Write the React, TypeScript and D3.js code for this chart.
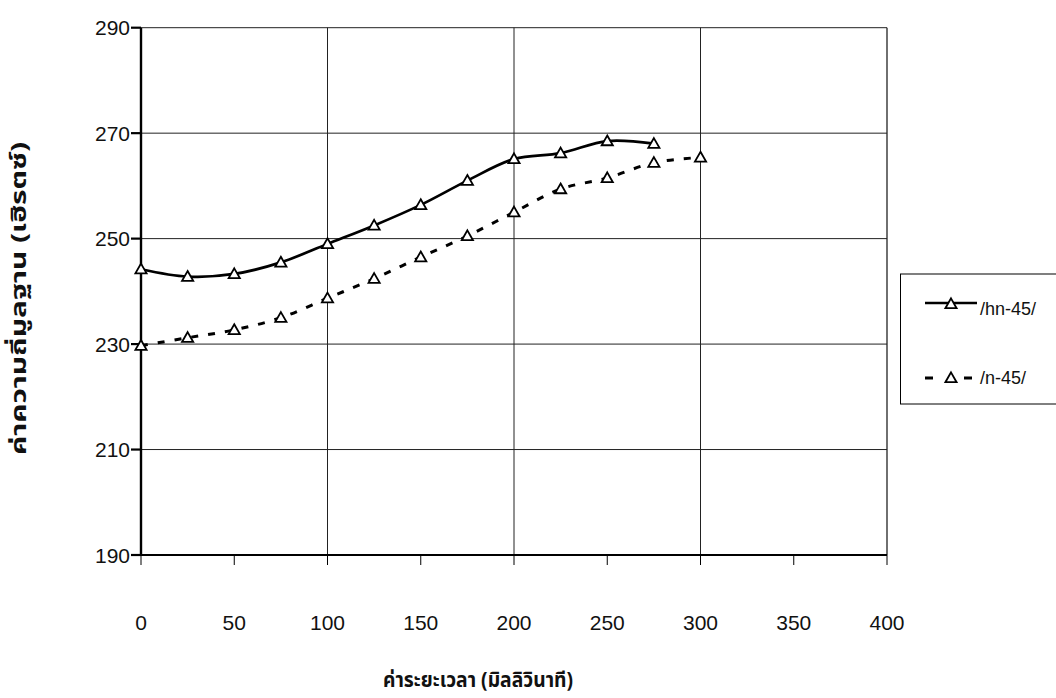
import React from "react";
import * as d3 from "d3";

const xValues1 = [0, 25, 50, 75, 100, 125, 150, 175, 200, 225, 250, 275];
const hn45 = [244.2, 242.8, 243.3, 245.5, 249.0, 252.5, 256.4, 261.0, 265.1, 266.2, 268.5, 268.0];
const xValues2 = [0, 25, 50, 75, 100, 125, 150, 175, 200, 225, 250, 275, 300];
const n45 = [229.7, 231.2, 232.7, 235.0, 238.7, 242.4, 246.5, 250.5, 255.0, 259.4, 261.5, 264.4, 265.4];
const xTicks = [0, 50, 100, 150, 200, 250, 300, 350, 400];
const yTicks = [190, 210, 230, 250, 270, 290];
const xGrid = [100, 200, 300, 400];
const yGrid = [210, 230, 250, 270, 290];
const seriesNames = ["/hn-45/", "/n-45/"];
const xTitle = "ค่าระยะเวลา (มิลลิวินาที)";
const yTitle = "ค่าความถี่มูลฐาน (เฮิรตซ์)";

const W = 1056, H = 698;
const left = 141, right = 887, top = 27.7, bottom = 555;
const font = "'Liberation Sans', Arial, sans-serif";
const thaiFont = "'Noto Sans Thai', 'Loma', 'Garuda', 'Liberation Sans', 'DejaVu Sans', sans-serif";
const dash = "7,10";

function Tri({ x, y }: { x: number; y: number }) {
  const s = 5.6;
  return (
    <path
      d={`M${x},${y - s} L${x + s},${y + s * 0.75} L${x - s},${y + s * 0.75} Z`}
      fill="#fff"
      stroke="#000"
      strokeWidth={1.8}
    />
  );
}

export default function App() {
  const x = d3.scaleLinear().domain([0, 400]).range([left, right]);
  const y = d3.scaleLinear().domain([190, 290]).range([bottom, top]);
  const line = d3
    .line<[number, number]>()
    .x((d) => x(d[0]))
    .y((d) => y(d[1]))
    .curve(d3.curveCatmullRom.alpha(0.5));
  const d1 = xValues1.map((v, i) => [v, hn45[i]] as [number, number]);
  const d2 = xValues2.map((v, i) => [v, n45[i]] as [number, number]);

  return (
    <svg width={W} height={H} style={{ position: "absolute", left: 0, top: 0, background: "#fff" }}>
      <rect x={0} y={0} width={W} height={H} fill="#fff" />
      {/* grid */}
      {yGrid.map((v) => (
        <line key={"gy" + v} x1={left} x2={right} y1={y(v)} y2={y(v)} stroke="#222" strokeWidth={1} />
      ))}
      {xGrid.map((v) => (
        <line key={"gx" + v} x1={x(v)} x2={x(v)} y1={top} y2={bottom} stroke="#222" strokeWidth={v === 400 ? 1.3 : 1} />
      ))}
      {/* axes */}
      <line x1={left} x2={left} y1={top} y2={bottom} stroke="#000" strokeWidth={2.4} />
      <line x1={left} x2={right} y1={bottom} y2={bottom} stroke="#000" strokeWidth={2.2} />
      {yTicks.map((v) => (
        <g key={"ty" + v}>
          <line x1={left - 10} x2={left} y1={y(v)} y2={y(v)} stroke="#000" strokeWidth={2.2} />
          <text x={left - 11} y={y(v) + 7.5} textAnchor="end" fontFamily={font} fontSize={21} fill="#111">
            {v}
          </text>
        </g>
      ))}
      {xTicks.map((v) => (
        <g key={"tx" + v}>
          <line x1={x(v)} x2={x(v)} y1={bottom} y2={bottom + 10} stroke="#000" strokeWidth={1} />
          <text x={x(v)} y={630} textAnchor="middle" fontFamily={font} fontSize={21} fill="#111">
            {v}
          </text>
        </g>
      ))}
      {/* series */}
      <path d={line(d2) || ""} fill="none" stroke="#000" strokeWidth={3} strokeDasharray={dash} />
      <path d={line(d1) || ""} fill="none" stroke="#000" strokeWidth={2.7} />
      {d2.map((d, i) => (
        <Tri key={"m2" + i} x={x(d[0])} y={y(d[1])} />
      ))}
      {d1.map((d, i) => (
        <Tri key={"m1" + i} x={x(d[0])} y={y(d[1])} />
      ))}
      {/* legend */}
      <rect x={900.5} y={274} width={170} height={130} fill="#fff" stroke="#000" strokeWidth={1} />
      <line x1={925} x2={977} y1={303} y2={303} stroke="#000" strokeWidth={2.7} />
      <Tri x={951} y={304} />
      <text x={980} y={315} fontFamily={font} fontSize={18} fill="#111">
        {seriesNames[0]}
      </text>
      <line x1={925} x2={977} y1={378} y2={378} stroke="#000" strokeWidth={3} strokeDasharray="8,31,8" />
      <Tri x={951} y={378} />
      <text x={980} y={384} fontFamily={font} fontSize={18} fill="#111">
        {seriesNames[1]}
      </text>
      {/* titles */}
      <text
        x={383}
        y={687}
        textLength={190}
        lengthAdjust="spacingAndGlyphs"
        fontFamily={thaiFont}
        fontWeight="bold"
        fontSize={22}
        fill="#111"
      >
        {xTitle}
      </text>
      <text
        transform={`translate(26,${455}) rotate(-90)`}
        textLength={313}
        lengthAdjust="spacingAndGlyphs"
        fontFamily={thaiFont}
        fontWeight="bold"
        fontSize={21}
        fill="#111"
      >
        {yTitle}
      </text>
    </svg>
  );
}
